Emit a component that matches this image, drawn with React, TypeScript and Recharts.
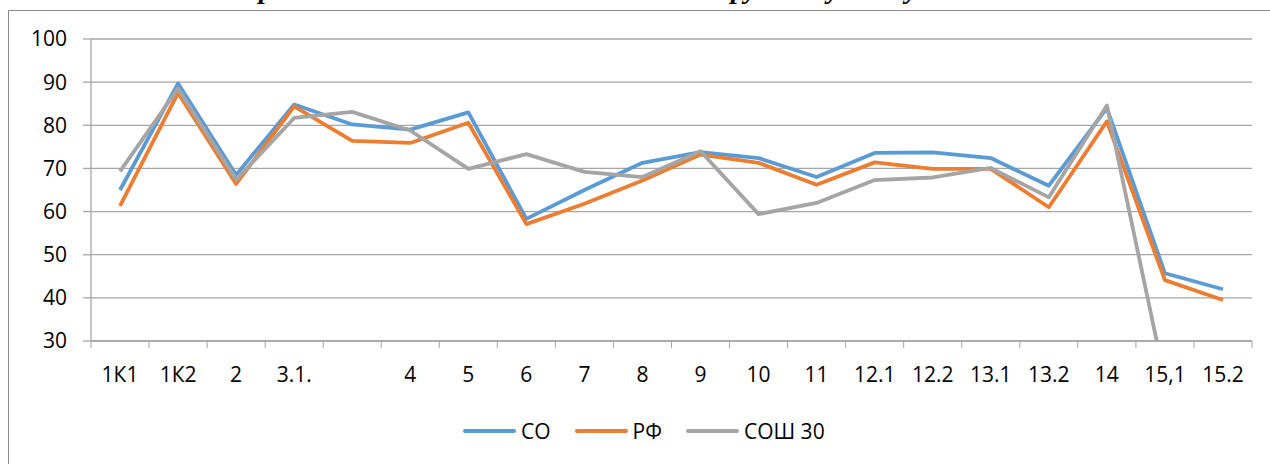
import { LineChart, Line, XAxis, YAxis, CartesianGrid } from 'recharts';

const categories = ['1К1', '1К2', '2', '3.1.', '', '4', '5', '6', '7', '8', '9', '10', '11', '12.1', '12.2', '13.1', '13.2', '14', '15,1', '15.2'];
const soValues = [65, 89.7, 68.5, 84.8, 80.2, 79, 83, 58.3, 65, 71.3, 73.8, 72.4, 68, 73.6, 73.7, 72.4, 66, 84, 45.7, 42];
const rfValues = [61.3, 87.5, 66.4, 84.4, 76.4, 75.9, 80.6, 57.1, 61.8, 67.2, 73.2, 71.3, 66.2, 71.4, 69.9, 69.9, 61, 80.9, 44.1, 39.5];
const schoolValues = [69.3, 88.5, 67.4, 81.7, 83.1, 78.8, 69.9, 73.3, 69.2, 68, 74, 59.4, 62, 67.3, 67.9, 70.1, 63.3, 84.6, 21, null];
const yTicks = [30, 40, 50, 60, 70, 80, 90, 100];

const series = [
  { key: 'so', name: 'СО', color: '#5b9bd5' },
  { key: 'rf', name: 'РФ', color: '#ed7d31' },
  { key: 'school', name: 'СОШ 30', color: '#a5a5a5' },
];

const data = categories.map((c, i) => ({
  i,
  cat: c,
  so: soValues[i],
  rf: rfValues[i],
  school: schoolValues[i],
}));

// label ticks on integers, tick marks on the category boundaries
const xTicks: number[] = [];
for (let k = 0; k <= categories.length; k++) {
  xTicks.push(k - 0.5);
  if (k < categories.length) xTicks.push(k);
}

const FONT = '"Open Sans", sans-serif';
const GRID = '#a6a6a6';

function CategoryTick(props: any) {
  const { x, y, payload } = props;
  const v = payload.value as number;
  if (Number.isInteger(v)) {
    return (
      <text x={x} y={y + 41} textAnchor="middle" fontSize={21} fontFamily={FONT} fill="#000">
        {categories[v]}
      </text>
    );
  }
  return <line x1={x} x2={x} y1={y} y2={y + 7} stroke={GRID} strokeWidth={1} />;
}

export default function App() {
  return (
    <div style={{ position: 'absolute', left: 0, top: 0, width: 1270, height: 464, overflow: 'hidden', background: '#fff' }}>
      {/* chart title, mostly above the visible area as in the source */}
      <div
        style={{
          position: 'absolute',
          left: 0,
          right: 0,
          top: -27,
          textAlign: 'center',
          fontFamily: '"Liberation Serif", serif',
          fontStyle: 'italic',
          fontWeight: 'bold',
          fontSize: 28,
          paddingLeft: 10,
          whiteSpace: 'nowrap',
        }}
      >
        Средние баллы выполнения заданий по русскому языку 9 классов
      </div>
      <div style={{ position: 'absolute', left: 8, top: 10, width: 1400, height: 600, border: '1px solid #8c8c8c' }} />
      <div style={{ position: 'absolute', left: 0, top: 0 }}>
        <LineChart width={1270} height={464} data={data} margin={{ top: 39, right: 18, left: 0, bottom: 83 }}>
          <CartesianGrid vertical={false} stroke={GRID} strokeWidth={1.3} />
          <XAxis
            dataKey="i"
            type="number"
            domain={[-0.5, categories.length - 0.5]}
            ticks={xTicks}
            interval={0}
            tick={<CategoryTick />}
            tickLine={false}
            tickSize={0}
            tickMargin={0}
            axisLine={{ stroke: GRID, strokeWidth: 1.3 }}
            height={40}
          />
          <YAxis
            domain={[30, 100]}
            ticks={yTicks}
            allowDataOverflow
            width={91}
            tickSize={8}
            tickMargin={16}
            tickLine={{ stroke: GRID, strokeWidth: 1.3 }}
            axisLine={{ stroke: GRID, strokeWidth: 1.3 }}
            tick={{ fill: '#000', fontSize: 21, fontFamily: FONT }}
          />
          {series.map((s) => (
            <Line
              key={s.key}
              dataKey={s.key}
              name={s.name}
              stroke={s.color}
              strokeWidth={3.8}
              strokeLinejoin="round"
              dot={false}
              activeDot={false}
              isAnimationActive={false}
            />
          ))}
        </LineChart>
      </div>
      <div style={{ position: 'absolute', left: 463, top: 417, display: 'flex', alignItems: 'center', fontFamily: FONT, fontSize: 21, color: '#000' }}>
        {series.map((s) => (
          <div key={s.key} style={{ display: 'flex', alignItems: 'center', marginRight: 24 }}>
            <div style={{ width: 53, height: 4, borderRadius: 2, background: s.color, marginRight: 5 }} />
            <span>{s.name}</span>
          </div>
        ))}
      </div>
    </div>
  );
}
